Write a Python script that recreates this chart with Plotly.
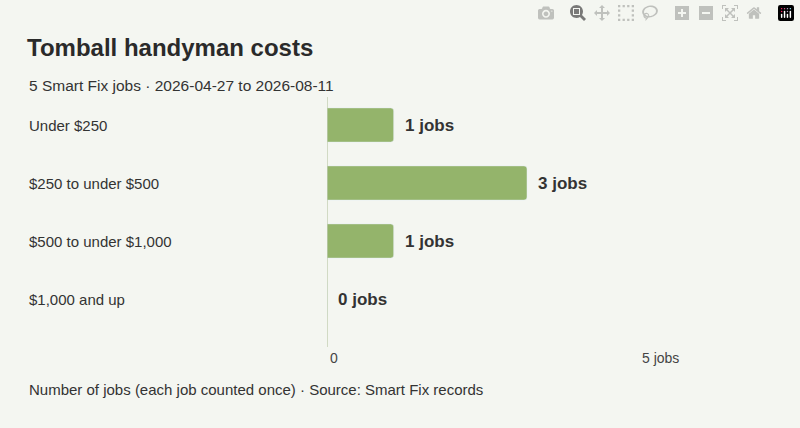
import plotly.graph_objects as go

categories = ["Under $250", "$250 to under $500", "$500 to under $1,000", "$1,000 and up"]
jobs = [1, 3, 1, 0]
tick_vals = [0, 5]
tick_text = ["0", "5 jobs"]

W, H = 800, 428
L, R, T, B = 327, 73, 97, 81
pw = W - L - R
ph = H - T - B
def px(x):
    return (x - L) / pw
def py(y):
    return 1 - (y - T) / ph

ypos = list(range(len(categories)))
fig = go.Figure(go.Bar(x=jobs, y=ypos, orientation="h", marker_color="#94b46b",
                       width=0.59, hoverinfo="skip"))
ann = []
for i, (c, v) in enumerate(zip(categories, jobs)):
    ann.append(dict(x=px(27), xref="paper", y=i, yref="y", text=c, showarrow=False,
                    xanchor="left", font=dict(size=15, color="#333")))
    ann.append(dict(x=v, xref="x", y=i, yref="y", text=f"<b>{v} jobs</b>", showarrow=False,
                    xanchor="left", xshift=9, font=dict(size=17, color="#333")))
for v, t in zip(tick_vals, tick_text):
    ann.append(dict(x=v, xref="x", y=py(368), yref="paper", text=t, showarrow=False,
                    xanchor="left" if v == 0 else "center", xshift=1 if v == 0 else 0,
                    font=dict(size=14, color="#444")))
ann += [
    dict(x=px(25), y=py(32), xref="paper", yref="paper", text="<b>Tomball handyman costs</b>",
         showarrow=False, xanchor="left", font=dict(size=24, color="#2a2a2a")),
    dict(x=px(27), y=py(75), xref="paper", yref="paper",
         text="5 Smart Fix jobs · 2026-04-27 to 2026-08-11",
         showarrow=False, xanchor="left", font=dict(size=15.5, color="#333")),
    dict(x=px(27), y=py(400), xref="paper", yref="paper",
         text="Number of jobs (each job counted once) · Source: Smart Fix records",
         showarrow=False, xanchor="left", font=dict(size=15, color="#333")),
]
fig.update_layout(
    width=W, height=H, margin=dict(l=L, r=R, t=T, b=B),
    paper_bgcolor="#f4f6f1", plot_bgcolor="#f4f6f1",
    font=dict(family="Liberation Sans, Arial, sans-serif"),
    barcornerradius=3, showlegend=False, annotations=ann,
    xaxis=dict(range=[0, 6], showgrid=False, zeroline=False, showticklabels=False, fixedrange=True),
    yaxis=dict(range=[3 + 48/58, -28/58], showgrid=False, zeroline=False, showticklabels=False,
               showline=False),
    shapes=[dict(type="line", xref="x", yref="paper", x0=0, x1=0, y0=0, y1=1,
                 line=dict(color="#b9c8a6", width=1.2))],
)
fig.write_html("out.html", post_script="document.body.style.margin='0';document.body.style.overflow='hidden';")
